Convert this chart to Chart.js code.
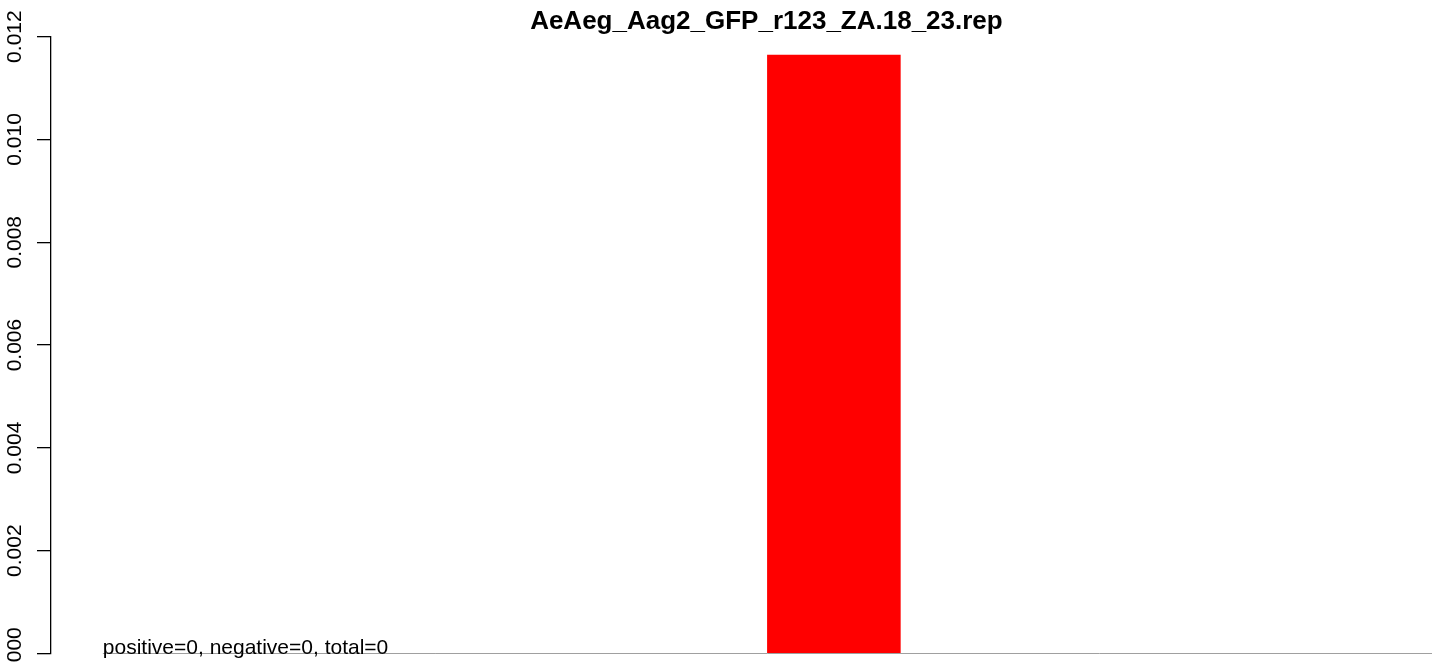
<!DOCTYPE html>
<html>
<head>
<meta charset="utf-8">
<script src="https://cdn.jsdelivr.net/npm/chart.js@4/dist/chart.umd.min.js"></script>
<style>
  html, body { margin: 0; padding: 0; background: #fff; }
  #wrap { width: 1444px; height: 664px; }
</style>
</head>
<body>
<div id="wrap"><canvas id="myChart" width="1444" height="664"></canvas></div>
<script>
// data
const chartTitle = 'AeAeg_Aag2_GFP_r123_ZA.18_23.rep';
const noteText = 'positive=0, negative=0, total=0';
const binCenters = [0.5, 1.5, 2.5, 3.5, 4.5, 5.5, 6.5, 7.5, 8.5, 9.5];
const binValues = [0, 0, 0, 0, 0, 0.01164, 0, 0, 0, 0];
const baseRange = [0, 10];
const yTicks = [0, 0.002, 0.004, 0.006, 0.008, 0.010, 0.012];

const FONT = '"Liberation Sans", Arial, Helvetica, sans-serif';

// R style text: title, rotated y labels, note under the bars
const rText = {
    id: 'rText',
    afterDraw(chart) {
        const ctx = chart.ctx;
        const x = chart.scales.x, y = chart.scales.y;
        ctx.save();
        ctx.fillStyle = '#000';

        ctx.font = 'bold 26px ' + FONT;
        ctx.textAlign = 'center';
        ctx.textBaseline = 'alphabetic';
        ctx.fillText(chartTitle, x.getPixelForValue((baseRange[0] + baseRange[1]) / 2) - 1, 28.5);

        ctx.font = '21px ' + FONT;
        yTicks.forEach(v => {
            ctx.save();
            ctx.translate(20.5, y.getPixelForValue(v));
            ctx.rotate(-Math.PI / 2);
            ctx.textAlign = 'center';
            ctx.fillText(v.toFixed(3), 0, 0);
            ctx.restore();
        });

        ctx.textAlign = 'left';
        ctx.fillText(noteText, x.getPixelForValue(baseRange[0]), y.getPixelForValue(0));
        ctx.restore();
    }
};

const ctx = document.getElementById('myChart').getContext('2d');
const chart = new Chart(ctx, {
    type: 'bar',
    data: {
        datasets: [{
            type: 'line',
            data: baseRange.map(v => ({ x: v, y: 0 })),
            borderColor: '#a0a0a0',
            borderWidth: 1,
            pointRadius: 0,
            clip: false,
            order: 0
        }, {
            data: binCenters.map((c, i) => ({ x: c, y: binValues[i] })),
            backgroundColor: binValues.map(v => v > 0 ? '#ff0000' : 'rgba(0,0,0,0)'),
            borderWidth: 0,
            barPercentage: 1,
            categoryPercentage: 1,
            order: 1
        }]
    },
    options: {
        responsive: false,
        animation: false,
        layout: { padding: { top: 36.6, right: 12, bottom: 10.5, left: 0 } },
        plugins: {
            legend: { display: false },
            title: { display: false },
            tooltip: { enabled: false }
        },
        scales: {
            x: {
                type: 'linear',
                display: false,
                offset: false,
                min: -0.39,
                max: 10
            },
            y: {
                min: 0,
                max: 0.012,
                afterFit: s => { s.width = 51; },
                afterBuildTicks: s => { s.ticks = yTicks.map(v => ({ value: v })); },
                ticks: { display: false },
                grid: {
                    drawOnChartArea: false,
                    drawTicks: true,
                    tickLength: 14,
                    color: '#000',
                    lineWidth: 1.3
                },
                border: { display: true, color: '#000', width: 1.3 }
            }
        }
    },
    plugins: [rText]
});
</script>
</body>
</html>
